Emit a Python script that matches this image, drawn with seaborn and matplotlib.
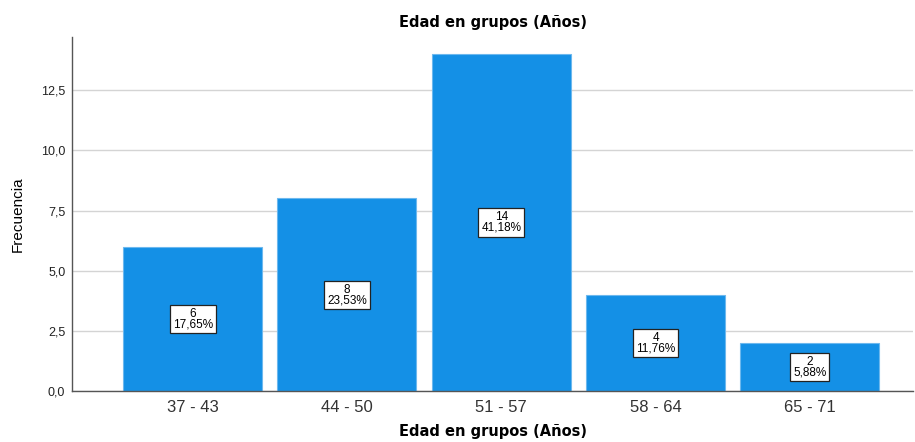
import matplotlib
matplotlib.use("Agg")
import matplotlib.pyplot as plt
import numpy as np
import pandas as pd
import seaborn as sns

# Data
grupos = ["37 - 43", "44 - 50", "51 - 57", "58 - 64", "65 - 71"]
frecuencia = [6, 8, 14, 4, 2]
porcentaje = ["17,65%", "23,53%", "41,18%", "11,76%", "5,88%"]
y_ticks = [0.0, 2.5, 5.0, 7.5, 10.0, 12.5]
y_tick_labels = ["0,0", "2,5", "5,0", "7,5", "10,0", "12,5"]

df = pd.DataFrame({"grupo": grupos, "frecuencia": frecuencia})

sns.set_style("white")
plt.rcParams["font.family"] = ["Liberation Sans", "DejaVu Sans"]

fig = plt.figure(figsize=(9.15, 4.42), dpi=100)
ax = fig.add_axes([0.079, 0.115, 0.919, 0.801])

ax.yaxis.grid(True, color="#d4d4d4", linewidth=1.0)
ax.set_axisbelow(True)

sns.barplot(data=df, x="grupo", y="frecuencia", color="#1490e6",
            saturation=1, width=0.9, edgecolor="#6db8ee", linewidth=0.8,
            ax=ax, zorder=2)

# value boxes at mid-height of each bar
for i, (f, p) in enumerate(zip(frecuencia, porcentaje)):
    ax.text(i, f / 2, f"{f}\n{p}", ha="center", va="center", fontsize=8.5,
            linespacing=0.85, color="black", zorder=4,
            bbox=dict(boxstyle="square,pad=0.25", facecolor="white",
                      edgecolor="#222222", linewidth=0.9))

ax.set_xlim(-0.78, 4.67)
ax.set_ylim(0, 14.7)
ax.set_yticks(y_ticks)
ax.set_yticklabels(y_tick_labels, fontsize=9)
ax.tick_params(axis="x", labelsize=12, length=0, pad=6, colors="#333333")
ax.tick_params(axis="y", length=0, pad=5, colors="#222222")

for side in ["top", "right"]:
    ax.spines[side].set_visible(False)
for side in ["left", "bottom"]:
    ax.spines[side].set_color("#555555")
    ax.spines[side].set_linewidth(1.0)

ax.set_title("Edad en grupos (Años)", fontsize=10.5, fontweight="bold",
             pad=7, color="black", family="DejaVu Sans")
ax.set_xlabel("Edad en grupos (Años)", fontsize=10.5, fontweight="bold",
              labelpad=7, color="black", family="DejaVu Sans")
ax.set_ylabel("Frecuencia", fontsize=11, color="black")
ax.yaxis.set_label_coords(-0.056, 0.5)

fig.savefig("out.png", dpi=100)
